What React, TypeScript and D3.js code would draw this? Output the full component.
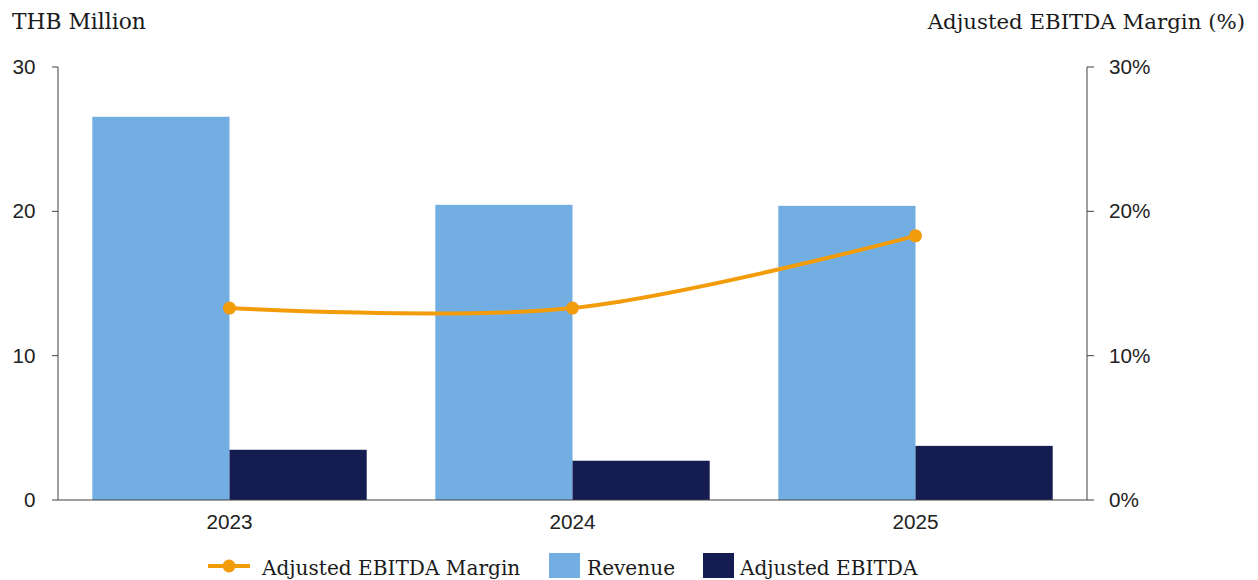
import React from "react";
import * as d3 from "d3";

const categories = ["2023", "2024", "2025"];
const revenue = [26.55, 20.45, 20.38];
const adjustedEbitda = [3.48, 2.72, 3.75];
const margin = [13.3, 13.3, 18.3];
const leftTicks = [0, 10, 20, 30];
const rightTicks = [0, 10, 20, 30];

const W = 1258;
const H = 580;
const X0 = 58;
const X1 = 1087;
const Y0 = 500;
const Y1 = 67;

const serif = "Georgia, 'DejaVu Serif', serif";
const sans = "'Liberation Sans', Arial, sans-serif";
const BLUE = "#73AEE3";
const NAVY = "#141C52";
const ORANGE = "#F39C0A";
const AXIS = "#404040";

export default function App() {
  const x = d3.scaleBand<string>().domain(categories).range([X0, X1]).paddingInner(0).paddingOuter(0);
  const bw = x.bandwidth();
  const inner = d3.scaleBand<string>().domain(["rev", "ebitda"]).range([bw * 0.1, bw * 0.9]);
  const yL = d3.scaleLinear().domain([0, 30]).range([Y0, Y1]);
  const yR = d3.scaleLinear().domain([0, 30]).range([Y0, Y1]);
  const line = d3
    .line<number>()
    .x((_, i) => (x(categories[i]) as number) + bw / 2)
    .y((d) => yR(d))
    .curve(d3.curveCardinal.tension(0));

  return (
    <svg width={W} height={H} style={{ position: "absolute", left: 0, top: 0 }}>
      <rect width={W} height={H} fill="#fff" />
      <text x={12} y={29} fontFamily={serif} fontSize={21.8} fill="#1a1a1a">THB Million</text>
      <text x={1245} y={29} textAnchor="end" fontFamily={serif} fontSize={21.3} fill="#1a1a1a">
        Adjusted EBITDA Margin (%)
      </text>

      {categories.map((c, i) => (
        <g key={c}>
          <rect
            x={(x(c) as number) + (inner("rev") as number)}
            y={yL(revenue[i])}
            width={inner.bandwidth()}
            height={Y0 - yL(revenue[i])}
            fill={BLUE}
          />
          <rect
            x={(x(c) as number) + (inner("ebitda") as number)}
            y={yL(adjustedEbitda[i])}
            width={inner.bandwidth()}
            height={Y0 - yL(adjustedEbitda[i])}
            fill={NAVY}
          />
          <text
            x={(x(c) as number) + bw / 2}
            y={529}
            textAnchor="middle"
            fontFamily={sans}
            fontSize={20.7}
            fill="#222"
          >
            {c}
          </text>
        </g>
      ))}

      {/* axes */}
      <line x1={X0} x2={X0} y1={Y1} y2={Y0} stroke={AXIS} strokeWidth={1} />
      <line x1={X1} x2={X1} y1={Y1} y2={Y0} stroke={AXIS} strokeWidth={1} />
      <line x1={X0} x2={X1} y1={Y0} y2={Y0} stroke={AXIS} strokeWidth={1} />
      {leftTicks.map((t) => (
        <g key={"l" + t}>
          <line x1={X0 - 6} x2={X0} y1={yL(t)} y2={yL(t)} stroke={AXIS} />
          <text x={35.5} y={yL(t) + 7} textAnchor="end" fontFamily={sans} fontSize={20.7} fill="#222">
            {t}
          </text>
        </g>
      ))}
      {rightTicks.map((t) => (
        <g key={"r" + t}>
          <line x1={X1} x2={X1 + 7} y1={yR(t)} y2={yR(t)} stroke={AXIS} />
          <text x={1109} y={yR(t) + 7} fontFamily={sans} fontSize={20.7} fill="#222">
            {t + "%"}
          </text>
        </g>
      ))}

      <path d={line(margin) || ""} fill="none" stroke={ORANGE} strokeWidth={4} />
      {margin.map((m, i) => (
        <circle key={i} cx={(x(categories[i]) as number) + bw / 2} cy={yR(m)} r={6.5} fill={ORANGE} />
      ))}

      {/* legend */}
      <g>
        <line x1={208} x2={250} y1={566} y2={566} stroke={ORANGE} strokeWidth={4} />
        <circle cx={229} cy={566} r={6.5} fill={ORANGE} />
        <text x={262} y={575} fontFamily={serif} fontSize={20.1} fill="#1a1a1a">Adjusted EBITDA Margin</text>
        <rect x={549} y={553} width={31} height={25} fill={BLUE} />
        <text x={587} y={575} fontFamily={serif} fontSize={20.1} fill="#1a1a1a">Revenue</text>
        <rect x={703} y={553} width={31} height={25} fill={NAVY} />
        <text x={740} y={575} fontFamily={serif} fontSize={20.1} fill="#1a1a1a">Adjusted EBITDA</text>
      </g>
    </svg>
  );
}
